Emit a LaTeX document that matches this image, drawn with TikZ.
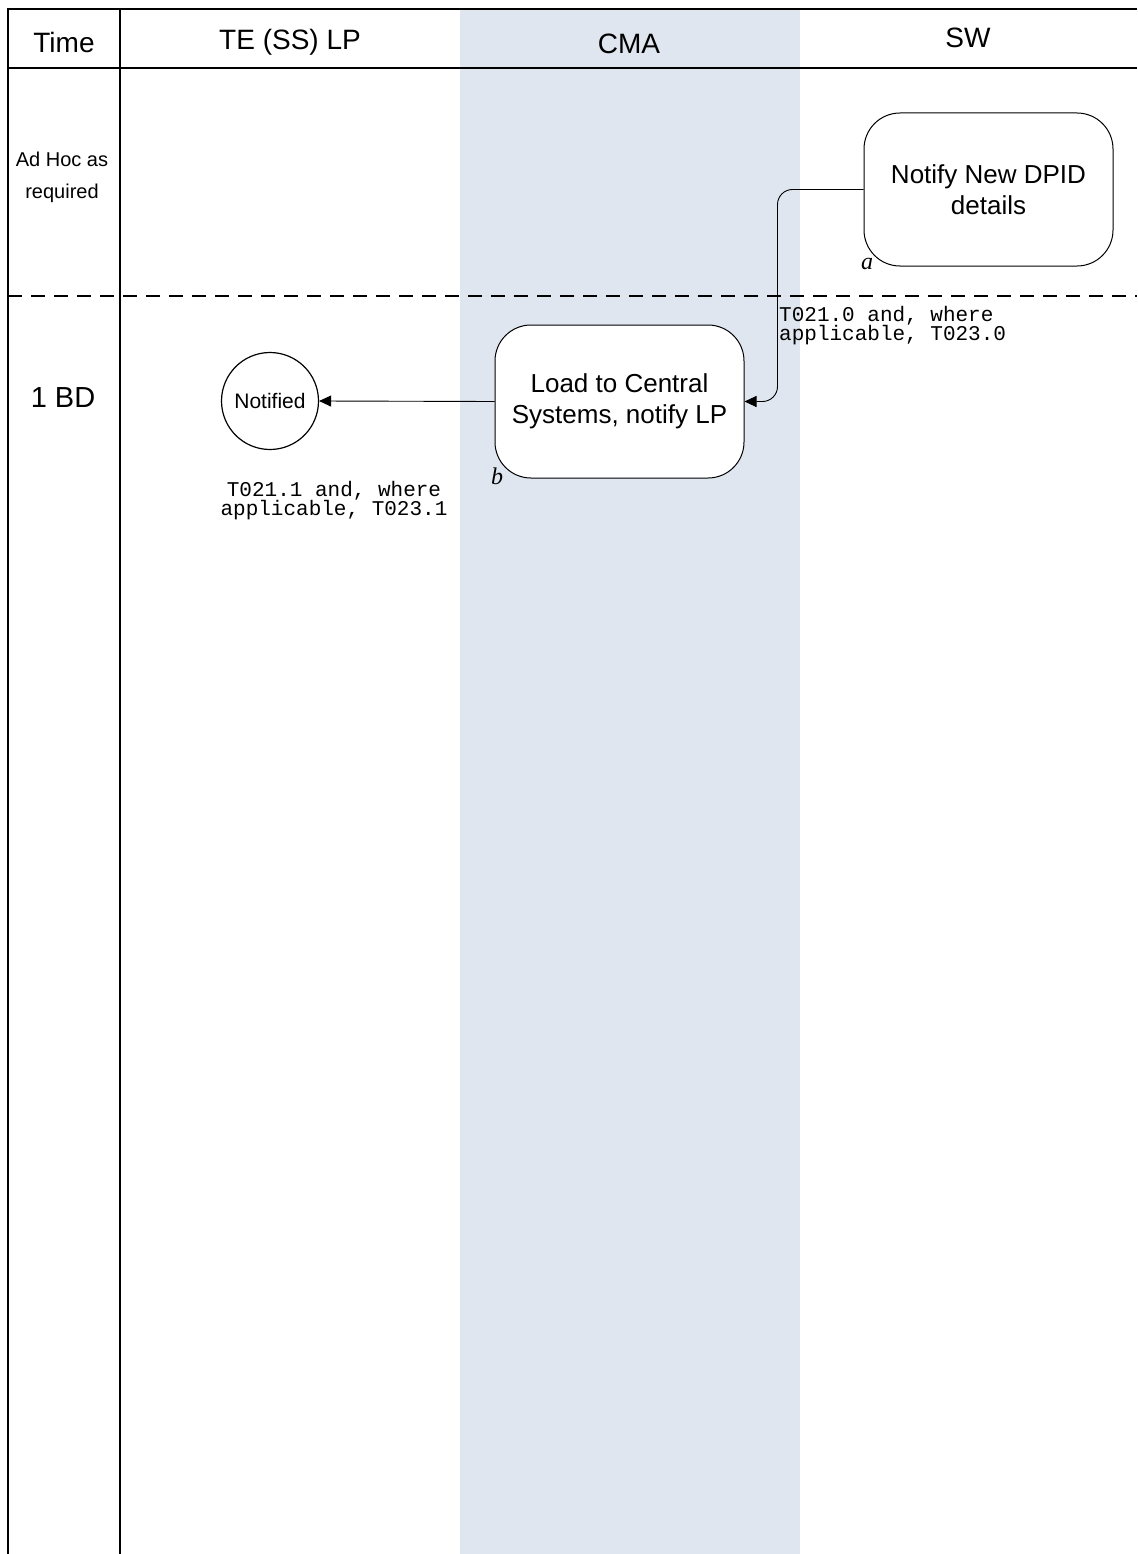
\documentclass[tikz,border=0pt]{standalone}
\usepackage{fontspec}
\setmainfont{Liberation Sans}
\newfontfamily\monof{Liberation Mono}
\newfontfamily\serf{Liberation Serif}
\usetikzlibrary{arrows.meta}
\definecolor{bandblue}{HTML}{DFE6EF}
\tikzset{
  frameline/.style={line width=2pt, black},
  procbox/.style={draw, line width=1pt, fill=white, rounded corners=36pt,
    minimum width=249pt, minimum height=153pt, align=center,
    font=\fontsize{26}{31}\selectfont},
  endcircle/.style={draw, line width=1.2pt, circle, fill=white, minimum size=97pt,
    inner sep=0pt, font=\fontsize{21}{24}\selectfont},
  conn/.style={line width=0.9pt, -{Triangle[length=12pt,width=11pt]}},
  hdr/.style={font=\fontsize{28}{32}\selectfont},
  monolbl/.style={font=\monof\fontsize{21}{19}\selectfont, align=left, inner sep=0pt},
  steplbl/.style={font=\serf\itshape\fontsize{24}{26}\selectfont, inner sep=0pt}
}
\begin{document}
\begin{tikzpicture}[x=1pt,y=-1pt]
\useasboundingbox (0,0) rectangle (1137,1554);
\fill[bandblue] (460,9) rectangle (800,1554);
% frame
\draw[frameline] (8,1554) -- (8,9) -- (1137,9);
\draw[frameline] (8,68) -- (1137,68);
\draw[frameline] (120,9) -- (120,1554);
\draw[line width=2pt, dash pattern=on 14pt off 9pt] (8,296) -- (1137,296);
% headers
\node[hdr] (hTime) at (64,42) {Time};
\node[hdr] (hLP) at (290,42) {TE (SS) LP};
\node[hdr] (hCMA) at (629,44) {CMA};
\node[hdr] (hSW) at (968,38) {SW};
% time labels
\node[align=center, font=\fontsize{20}{32}\selectfont] (tAd) at (62,177) {Ad Hoc as\\required};
\node[font=\fontsize{29}{32}\selectfont] (tBD) at (63,398) {1 BD};
% nodes
\node[procbox] (a) at (988.5,189.5) {Notify New DPID\\details};
\node[procbox] (b) at (619.5,401.5) {Load to Central\\Systems, notify LP};
\node[endcircle] (n) at (270,401) {Notified};
\node[steplbl] (la) at (867,264) {a};
\node[steplbl] (lb) at (497,476) {b};
% connectors
\draw[conn, rounded corners=15pt] (a.west) -- ++(-86,0) |- (b.east);
\draw[conn] (b.west) -- (n.east);
% transaction labels
\node[monolbl, anchor=north west] (m1) at (779,306) {T021.0 and, where\\applicable, T023.0};
\node[monolbl, anchor=north, align=center] (m2) at (334,481) {T021.1 and, where\\applicable, T023.1};
\end{tikzpicture}
\end{document}
